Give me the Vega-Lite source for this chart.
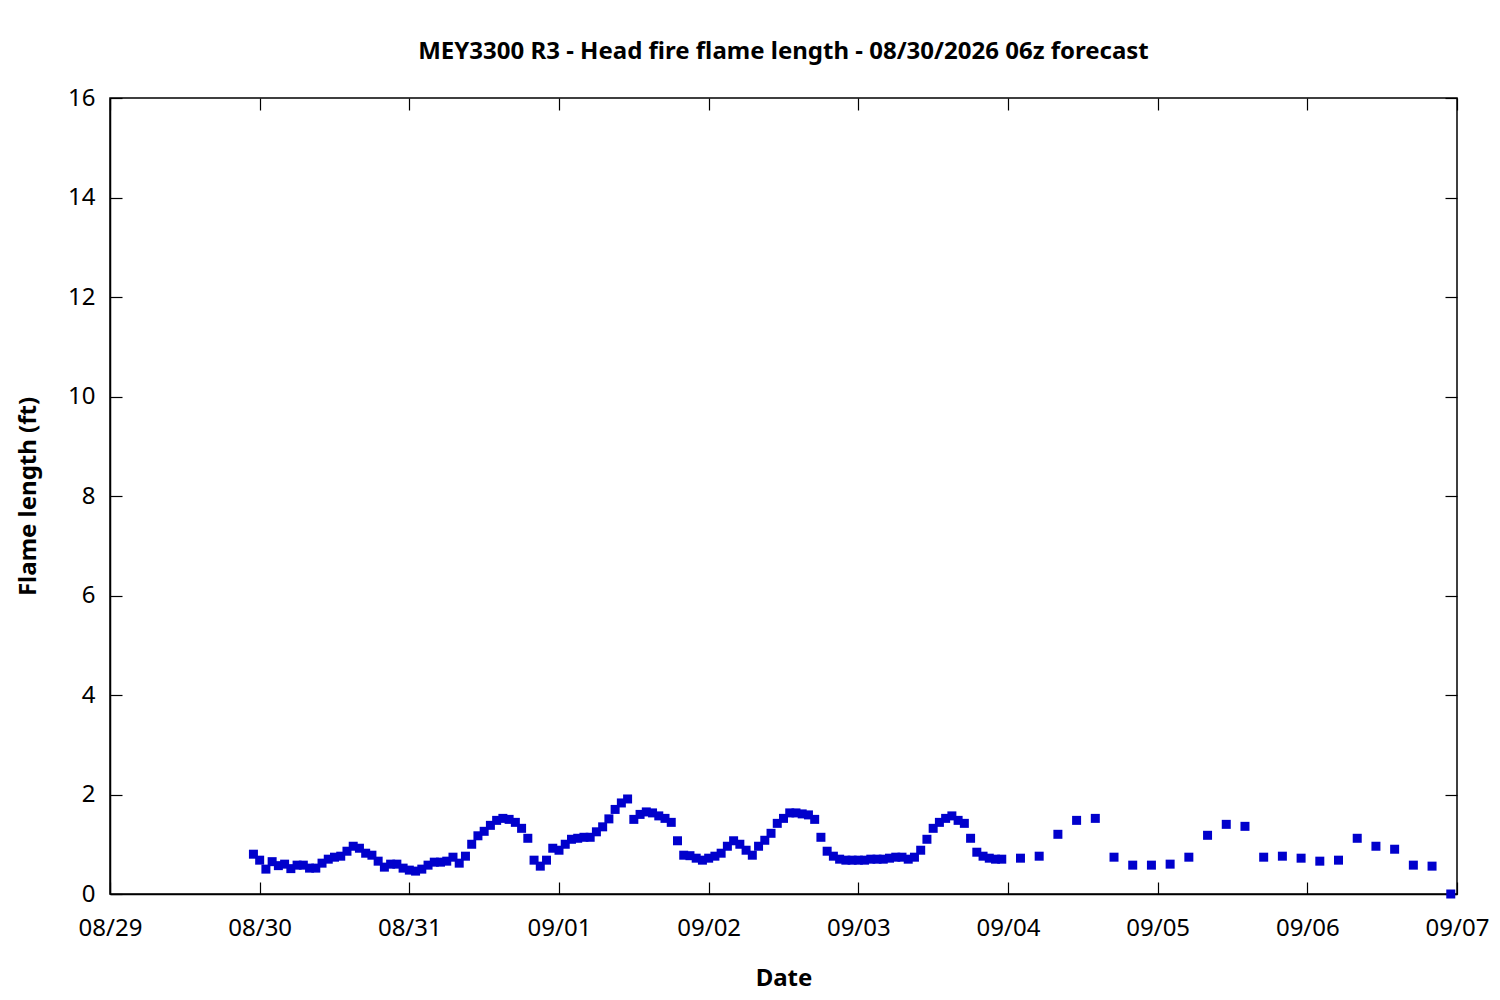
{
  "$schema": "https://vega.github.io/schema/vega-lite/v6.json",
  "width": 1347,
  "height": 796,
  "autosize": {"type": "none"},
  "padding": {"left": 110, "top": 98, "right": 43, "bottom": 106},
  "background": "white",
  "title": {
    "text": "MEY3300 R3 - Head fire flame length - 08/30/2026 06z forecast",
    "font": "Noto Sans",
    "fontSize": 24,
    "fontWeight": "bold",
    "color": "black",
    "anchor": "middle",
    "offset": 22
  },
  "data": {
    "values": [
      {"t": "2026-08-29T23:00:00", "v": 0.80},
      {"t": "2026-08-30T00:00:00", "v": 0.68},
      {"t": "2026-08-30T01:00:00", "v": 0.50},
      {"t": "2026-08-30T02:00:00", "v": 0.65},
      {"t": "2026-08-30T03:00:00", "v": 0.57},
      {"t": "2026-08-30T04:00:00", "v": 0.60},
      {"t": "2026-08-30T05:00:00", "v": 0.51},
      {"t": "2026-08-30T06:00:00", "v": 0.58},
      {"t": "2026-08-30T07:00:00", "v": 0.58},
      {"t": "2026-08-30T08:00:00", "v": 0.52},
      {"t": "2026-08-30T09:00:00", "v": 0.52},
      {"t": "2026-08-30T10:00:00", "v": 0.62},
      {"t": "2026-08-30T11:00:00", "v": 0.70},
      {"t": "2026-08-30T12:00:00", "v": 0.74},
      {"t": "2026-08-30T13:00:00", "v": 0.76},
      {"t": "2026-08-30T14:00:00", "v": 0.86},
      {"t": "2026-08-30T15:00:00", "v": 0.96},
      {"t": "2026-08-30T16:00:00", "v": 0.92},
      {"t": "2026-08-30T17:00:00", "v": 0.82},
      {"t": "2026-08-30T18:00:00", "v": 0.78},
      {"t": "2026-08-30T19:00:00", "v": 0.66},
      {"t": "2026-08-30T20:00:00", "v": 0.54},
      {"t": "2026-08-30T21:00:00", "v": 0.60},
      {"t": "2026-08-30T22:00:00", "v": 0.60},
      {"t": "2026-08-30T23:00:00", "v": 0.52},
      {"t": "2026-08-31T00:00:00", "v": 0.48},
      {"t": "2026-08-31T01:00:00", "v": 0.46},
      {"t": "2026-08-31T02:00:00", "v": 0.50},
      {"t": "2026-08-31T03:00:00", "v": 0.58},
      {"t": "2026-08-31T04:00:00", "v": 0.64},
      {"t": "2026-08-31T05:00:00", "v": 0.64},
      {"t": "2026-08-31T06:00:00", "v": 0.66},
      {"t": "2026-08-31T07:00:00", "v": 0.74},
      {"t": "2026-08-31T08:00:00", "v": 0.62},
      {"t": "2026-08-31T09:00:00", "v": 0.76},
      {"t": "2026-08-31T10:00:00", "v": 1.00},
      {"t": "2026-08-31T11:00:00", "v": 1.17},
      {"t": "2026-08-31T12:00:00", "v": 1.26},
      {"t": "2026-08-31T13:00:00", "v": 1.38},
      {"t": "2026-08-31T14:00:00", "v": 1.48},
      {"t": "2026-08-31T15:00:00", "v": 1.52},
      {"t": "2026-08-31T16:00:00", "v": 1.50},
      {"t": "2026-08-31T17:00:00", "v": 1.44},
      {"t": "2026-08-31T18:00:00", "v": 1.32},
      {"t": "2026-08-31T19:00:00", "v": 1.12},
      {"t": "2026-08-31T20:00:00", "v": 0.68},
      {"t": "2026-08-31T21:00:00", "v": 0.56},
      {"t": "2026-08-31T22:00:00", "v": 0.68},
      {"t": "2026-08-31T23:00:00", "v": 0.92},
      {"t": "2026-09-01T00:00:00", "v": 0.88},
      {"t": "2026-09-01T01:00:00", "v": 1.00},
      {"t": "2026-09-01T02:00:00", "v": 1.10},
      {"t": "2026-09-01T03:00:00", "v": 1.12},
      {"t": "2026-09-01T04:00:00", "v": 1.14},
      {"t": "2026-09-01T05:00:00", "v": 1.14},
      {"t": "2026-09-01T06:00:00", "v": 1.25},
      {"t": "2026-09-01T07:00:00", "v": 1.35},
      {"t": "2026-09-01T08:00:00", "v": 1.51},
      {"t": "2026-09-01T09:00:00", "v": 1.70},
      {"t": "2026-09-01T10:00:00", "v": 1.83},
      {"t": "2026-09-01T11:00:00", "v": 1.91},
      {"t": "2026-09-01T12:00:00", "v": 1.50},
      {"t": "2026-09-01T13:00:00", "v": 1.60},
      {"t": "2026-09-01T14:00:00", "v": 1.65},
      {"t": "2026-09-01T15:00:00", "v": 1.63},
      {"t": "2026-09-01T16:00:00", "v": 1.57},
      {"t": "2026-09-01T17:00:00", "v": 1.52},
      {"t": "2026-09-01T18:00:00", "v": 1.44},
      {"t": "2026-09-01T19:00:00", "v": 1.07},
      {"t": "2026-09-01T20:00:00", "v": 0.78},
      {"t": "2026-09-01T21:00:00", "v": 0.77},
      {"t": "2026-09-01T22:00:00", "v": 0.72},
      {"t": "2026-09-01T23:00:00", "v": 0.68},
      {"t": "2026-09-02T00:00:00", "v": 0.72},
      {"t": "2026-09-02T01:00:00", "v": 0.76},
      {"t": "2026-09-02T02:00:00", "v": 0.82},
      {"t": "2026-09-02T03:00:00", "v": 0.96},
      {"t": "2026-09-02T04:00:00", "v": 1.07},
      {"t": "2026-09-02T05:00:00", "v": 1.00},
      {"t": "2026-09-02T06:00:00", "v": 0.88},
      {"t": "2026-09-02T07:00:00", "v": 0.78},
      {"t": "2026-09-02T08:00:00", "v": 0.96},
      {"t": "2026-09-02T09:00:00", "v": 1.08},
      {"t": "2026-09-02T10:00:00", "v": 1.22},
      {"t": "2026-09-02T11:00:00", "v": 1.42},
      {"t": "2026-09-02T12:00:00", "v": 1.52},
      {"t": "2026-09-02T13:00:00", "v": 1.63},
      {"t": "2026-09-02T14:00:00", "v": 1.63},
      {"t": "2026-09-02T15:00:00", "v": 1.61},
      {"t": "2026-09-02T16:00:00", "v": 1.59},
      {"t": "2026-09-02T17:00:00", "v": 1.50},
      {"t": "2026-09-02T18:00:00", "v": 1.14},
      {"t": "2026-09-02T19:00:00", "v": 0.86},
      {"t": "2026-09-02T20:00:00", "v": 0.76},
      {"t": "2026-09-02T21:00:00", "v": 0.70},
      {"t": "2026-09-02T22:00:00", "v": 0.68},
      {"t": "2026-09-02T23:00:00", "v": 0.68},
      {"t": "2026-09-03T00:00:00", "v": 0.68},
      {"t": "2026-09-03T01:00:00", "v": 0.68},
      {"t": "2026-09-03T02:00:00", "v": 0.70},
      {"t": "2026-09-03T03:00:00", "v": 0.70},
      {"t": "2026-09-03T04:00:00", "v": 0.70},
      {"t": "2026-09-03T05:00:00", "v": 0.72},
      {"t": "2026-09-03T06:00:00", "v": 0.74},
      {"t": "2026-09-03T07:00:00", "v": 0.74},
      {"t": "2026-09-03T08:00:00", "v": 0.70},
      {"t": "2026-09-03T09:00:00", "v": 0.74},
      {"t": "2026-09-03T10:00:00", "v": 0.88},
      {"t": "2026-09-03T11:00:00", "v": 1.10},
      {"t": "2026-09-03T12:00:00", "v": 1.32},
      {"t": "2026-09-03T13:00:00", "v": 1.44},
      {"t": "2026-09-03T14:00:00", "v": 1.52},
      {"t": "2026-09-03T15:00:00", "v": 1.57},
      {"t": "2026-09-03T16:00:00", "v": 1.48},
      {"t": "2026-09-03T17:00:00", "v": 1.42},
      {"t": "2026-09-03T18:00:00", "v": 1.12},
      {"t": "2026-09-03T19:00:00", "v": 0.84},
      {"t": "2026-09-03T20:00:00", "v": 0.76},
      {"t": "2026-09-03T21:00:00", "v": 0.72},
      {"t": "2026-09-03T22:00:00", "v": 0.70},
      {"t": "2026-09-03T23:00:00", "v": 0.70},
      {"t": "2026-09-04T02:00:00", "v": 0.72},
      {"t": "2026-09-04T05:00:00", "v": 0.76},
      {"t": "2026-09-04T08:00:00", "v": 1.20},
      {"t": "2026-09-04T11:00:00", "v": 1.48},
      {"t": "2026-09-04T14:00:00", "v": 1.52},
      {"t": "2026-09-04T17:00:00", "v": 0.74},
      {"t": "2026-09-04T20:00:00", "v": 0.58},
      {"t": "2026-09-04T23:00:00", "v": 0.58},
      {"t": "2026-09-05T02:00:00", "v": 0.60},
      {"t": "2026-09-05T05:00:00", "v": 0.74},
      {"t": "2026-09-05T08:00:00", "v": 1.18},
      {"t": "2026-09-05T11:00:00", "v": 1.40},
      {"t": "2026-09-05T14:00:00", "v": 1.36},
      {"t": "2026-09-05T17:00:00", "v": 0.74},
      {"t": "2026-09-05T20:00:00", "v": 0.76},
      {"t": "2026-09-05T23:00:00", "v": 0.72},
      {"t": "2026-09-06T02:00:00", "v": 0.66},
      {"t": "2026-09-06T05:00:00", "v": 0.68},
      {"t": "2026-09-06T08:00:00", "v": 1.12},
      {"t": "2026-09-06T11:00:00", "v": 0.96},
      {"t": "2026-09-06T14:00:00", "v": 0.90},
      {"t": "2026-09-06T17:00:00", "v": 0.58},
      {"t": "2026-09-06T20:00:00", "v": 0.56},
      {"t": "2026-09-06T23:00:00", "v": 0.00}
    ]
  },
  "layer": [
    {
      "mark": {"type": "square", "size": 81, "color": "#0000CC", "opacity": 1, "clip": false},
      "encoding": {
        "x": {
          "field": "t",
          "type": "temporal",
          "title": "Date",
          "scale": {
            "domain": [
              {"year": 2026, "month": 8, "date": 29},
              {"year": 2026, "month": 9, "date": 7}
            ],
            "nice": false
          },
          "axis": {
            "orient": "bottom",
            "format": "%m/%d",
            "tickCount": {"interval": "day", "step": 1},
            "tickSize": -12,
            "labelPadding": 34,
            "labelFlush": false,
            "labelOverlap": false,
            "labelBound": false,
            "titlePadding": 26
          }
        },
        "y": {
          "field": "v",
          "type": "quantitative",
          "title": "Flame length (ft)",
          "scale": {"domain": [0, 16], "nice": false, "zero": true},
          "axis": {
            "orient": "left",
            "values": [0, 2, 4, 6, 8, 10, 12, 14, 16],
            "tickSize": -12,
            "labelPadding": 27,
            "labelFlush": false,
            "labelOverlap": false,
            "titlePadding": 27
          }
        }
      }
    },
    {
      "mark": {"type": "square", "size": 81, "opacity": 0},
      "encoding": {
        "x": {
          "field": "t",
          "type": "temporal",
          "axis": {
            "orient": "top",
            "title": null,
            "labels": false,
            "domain": false,
            "tickCount": {"interval": "day", "step": 1},
            "tickSize": -12
          }
        },
        "y": {
          "field": "v",
          "type": "quantitative",
          "axis": {
            "orient": "right",
            "title": null,
            "labels": false,
            "domain": false,
            "values": [0, 2, 4, 6, 8, 10, 12, 14, 16],
            "tickSize": -12
          }
        }
      }
    }
  ],
  "resolve": {"axis": {"x": "independent", "y": "independent"}},
  "config": {
    "font": "Noto Sans",
    "view": {"stroke": "black", "strokeWidth": 1.5},
    "axis": {
      "grid": false,
      "domainColor": "black",
      "domainWidth": 1.5,
      "tickColor": "black",
      "tickWidth": 1.2,
      "labelFont": "Noto Sans",
      "labelFontSize": 24,
      "labelColor": "black",
      "titleFont": "Noto Sans",
      "titleFontSize": 24,
      "titleFontWeight": "bold",
      "titleColor": "black"
    }
  }
}
